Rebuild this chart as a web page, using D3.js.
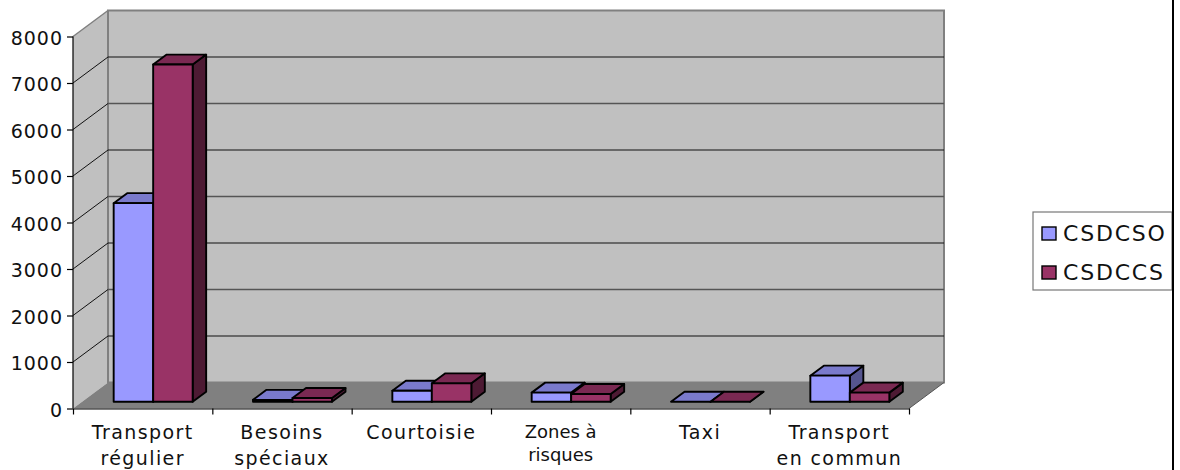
<!DOCTYPE html>
<html>
<head>
<meta charset="utf-8">
<script src="https://cdn.jsdelivr.net/npm/d3@7"></script>
<style>
  body { margin: 0; background: #fff; }
  text { font-family: "DejaVu Sans", sans-serif; fill: #111; }
</style>
</head>
<body>
<script>
const categories = [["Transport", "régulier"], ["Besoins", "spéciaux"], ["Courtoisie"], ["Zones à", "risques"], ["Taxi"], ["Transport", "en commun"]];
const seriesNames = ["CSDCSO", "CSDCCS"];
const csdcso = [4270, 40, 236, 195, 0, 560];
const csdccs = [7250, 80, 395, 165, 0, 195];
const yTicks = [0, 1000, 2000, 3000, 4000, 5000, 6000, 7000, 8000];

const frontColors = ["#9999ff", "#993366"];
const topColors = ["#7a7acc", "#7a2952"];
const sideColors = ["#55558f", "#4d1a33"];

const width = 1180, height = 470;
const wall = { dx: 35, dy: -26 };
const barDepth = { dx: 13.5, dy: -10 };
const barShift = { dx: 10.5, dy: -6.8 };

const svg = d3.select("body").append("svg").attr("width", width).attr("height", height);

const xScale = d3.scaleBand().domain(d3.range(categories.length)).range([73, 909]);
const inner = d3.scaleBand().domain([0, 1]).range([0, xScale.bandwidth()]).paddingInner(0).paddingOuter(0.764);
const yScale = d3.scaleLinear().domain([0, 8000]).range([408.5, 36.5]);

const poly = pts => pts.map(p => p.join(",")).join(" ");
const x0 = xScale.range()[0], x1 = xScale.range()[1];
const yBottom = yScale(0), yTop = yScale(8000);

// side wall, back wall, floor
svg.append("polygon")
  .attr("points", poly([[x0, yBottom], [x0 + wall.dx, yBottom + wall.dy], [x0 + wall.dx, yTop + wall.dy], [x0, yTop]]))
  .attr("fill", "#c0c0c0");
svg.append("polygon")
  .attr("points", poly([[x0, yBottom], [x1, yBottom], [x1 + wall.dx, yBottom + wall.dy], [x0 + wall.dx, yBottom + wall.dy]]))
  .attr("fill", "#808080");
svg.append("rect")
  .attr("x", x0 + wall.dx).attr("y", yTop + wall.dy)
  .attr("width", x1 - x0).attr("height", yBottom - yTop)
  .attr("fill", "#c0c0c0").attr("stroke", "#808080").attr("stroke-width", 2);
svg.append("line")
  .attr("x1", x0).attr("y1", yTop).attr("x2", x0 + wall.dx).attr("y2", yTop + wall.dy)
  .attr("stroke", "#808080").attr("stroke-width", 1.5);

// gridlines
const grid = svg.append("g");
yTicks.slice(1, -1).forEach(d => {
  const y = yScale(d);
  const strong = d % 2000 == 0;
  grid.append("line")
    .attr("x1", x0).attr("y1", y).attr("x2", x0 + wall.dx).attr("y2", y + wall.dy)
    .attr("stroke", "#111");
  grid.append("line")
    .attr("x1", x0 + wall.dx).attr("y1", y + wall.dy).attr("x2", x1 + wall.dx).attr("y2", y + wall.dy)
    .attr("stroke", strong ? "#555" : "#111").attr("stroke-width", strong ? 1.6 : 1);
});

svg.append("line")
  .attr("x1", x1).attr("y1", yBottom).attr("x2", x1 + wall.dx).attr("y2", yBottom + wall.dy)
  .attr("stroke", "#555");

// bars
const barsGroup = svg.append("g").attr("stroke", "#000").attr("stroke-width", 1.9).attr("stroke-linejoin", "round");
categories.forEach((c, i) => {
  [csdcso, csdccs].forEach((series, s) => {
    const left = xScale(i) + inner(s) + barShift.dx;
    const right = left + inner.bandwidth();
    const base = yBottom + barShift.dy;
    const top = yScale(series[i]) + barShift.dy;
    const d = barDepth;
    barsGroup.append("polygon")
      .attr("points", poly([[right, base], [right + d.dx, base + d.dy], [right + d.dx, top + d.dy], [right, top]]))
      .attr("fill", sideColors[s]);
    barsGroup.append("polygon")
      .attr("points", poly([[left, top], [right, top], [right + d.dx, top + d.dy], [left + d.dx, top + d.dy]]))
      .attr("fill", topColors[s]);
    barsGroup.append("rect")
      .attr("x", left).attr("y", top).attr("width", right - left).attr("height", base - top)
      .attr("fill", frontColors[s]);
  });
});

// y axis
const yAxis = svg.append("g")
  .attr("transform", `translate(${x0},0)`)
  .call(d3.axisLeft(yScale).tickValues(yTicks).tickFormat(d3.format("d")).tickSize(6).tickPadding(4));
yAxis.selectAll("path, line").attr("stroke", "#000").attr("stroke-width", 1.2);
yAxis.select(".domain").attr("d", `M0,${yTop}V${yBottom}`);
yAxis.selectAll("text").attr("font-size", 19).attr("letter-spacing", 1).attr("dy", "0.42em")
  .style("font-family", '"DejaVu Sans", sans-serif').style("fill", "#111");

// x axis, ticks sit on the band edges
const xEdges = d3.scaleLinear().domain([0, categories.length]).range([x0, x1]);
const xAxis = svg.append("g")
  .attr("transform", `translate(0,${yBottom})`)
  .call(d3.axisBottom(xEdges).tickValues(d3.range(categories.length + 1)).tickFormat("").tickSize(6).tickSizeOuter(0));
xAxis.selectAll("path, line").attr("stroke", "#000").attr("stroke-width", 1.2);

// category labels
categories.forEach((lines, i) => {
  const small = lines[0] == "Zones à";
  const t = svg.append("text")
    .attr("text-anchor", "middle")
    .attr("font-size", small ? 18 : 19)
    .attr("letter-spacing", small ? 0 : 1.4);
  lines.forEach((line, j) => {
    t.append("tspan")
      .attr("x", xScale(i) + xScale.bandwidth() / 2)
      .attr("y", small ? 438 + j * 23 : 439 + j * 26)
      .text(line);
  });
});

// legend
const legend = svg.append("g");
legend.append("rect").attr("x", 1033).attr("y", 212).attr("width", 139).attr("height", 78)
  .attr("fill", "#fff").attr("stroke", "#777").attr("stroke-width", 1.2);
seriesNames.forEach((name, i) => {
  const y = 227 + i * 39;
  legend.append("rect").attr("x", 1042).attr("y", y).attr("width", 14).attr("height", 13)
    .attr("fill", frontColors[i]).attr("stroke", "#000").attr("stroke-width", 1.4);
  legend.append("text").attr("x", 1063).attr("y", y + 14).attr("font-size", 22).attr("letter-spacing", 1.8).text(name);
});

// frame edge at the right of the page
svg.append("line").attr("x1", 1173).attr("y1", 0).attr("x2", 1173).attr("y2", height)
  .attr("stroke", "#000").attr("stroke-width", 2);
</script>
</body>
</html>
